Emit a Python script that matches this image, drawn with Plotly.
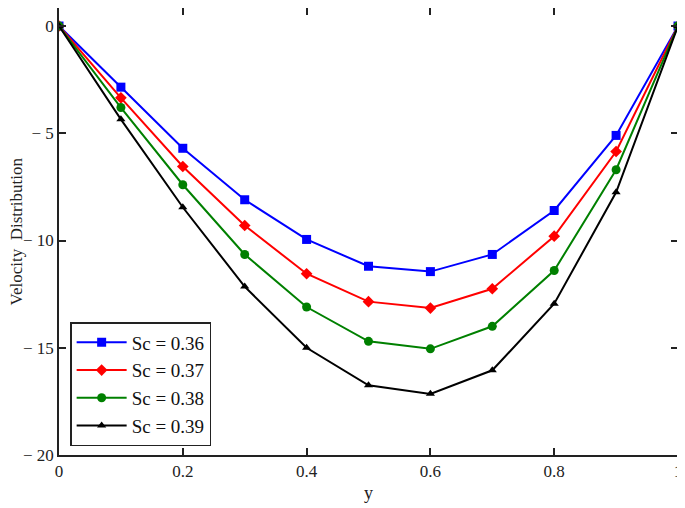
import plotly.graph_objects as go

x_vals = [0, 0.1, 0.2, 0.3, 0.4, 0.5, 0.6, 0.7, 0.8, 0.9, 1.0]
sc036 = [0, -2.85, -5.7, -8.1, -9.95, -11.2, -11.45, -10.65, -8.6, -5.1, 0]
sc037 = [0, -3.35, -6.55, -9.3, -11.55, -12.85, -13.15, -12.25, -9.8, -5.85, 0]
sc038 = [0, -3.8, -7.4, -10.65, -13.1, -14.7, -15.05, -14.0, -11.4, -6.7, 0]
sc039 = [0, -4.35, -8.45, -12.15, -15.0, -16.75, -17.15, -16.05, -12.95, -7.75, 0]
names = ["Sc = 0.36", "Sc = 0.37", "Sc = 0.38", "Sc = 0.39"]
x_ticks = [0, 0.2, 0.4, 0.6, 0.8, 1]
x_ticktext = ["0", "0.2", "0.4", "0.6", "0.8", "1"]
y_ticks = [0, -5, -10, -15, -20]
y_ticktext = ["0", "− 5", "− 10", "− 15", "− 20"]

colors = ["#0000ff", "#ff0000", "#008000", "#000000"]
symbols = ["square", "diamond", "circle", "triangle-up"]
sizes = [9, 9, 9, 8]

fig = go.Figure()
for ys, nm, c, s, sz in zip([sc036, sc037, sc038, sc039], names, colors, symbols, sizes):
    fig.add_trace(go.Scatter(x=x_vals, y=ys, name=nm, mode="lines+markers",
                             line=dict(color=c, width=2),
                             marker=dict(symbol=s, size=sz, color=c)))

font_family = "Liberation Serif, Times New Roman, serif"
fig.update_layout(
    width=685, height=508,
    margin=dict(l=51, r=15, t=0, b=61, autoexpand=False),
    plot_bgcolor="white", paper_bgcolor="white",
    font=dict(family=font_family, size=17, color="#222"),
    showlegend=True,
    legend=dict(x=0.018, y=0.2975, xanchor="left", yanchor="top",
                bordercolor="#222", borderwidth=1.5, bgcolor="white",
                font=dict(size=19, color="#111"), tracegroupgap=0,
                itemwidth=50),
    xaxis=dict(range=[0, 1], tickvals=x_ticks, ticktext=x_ticktext,
               ticks="inside", ticklen=7, tickwidth=1.5, tickcolor="#222",
               showline=True, linecolor="#222", linewidth=1.5, mirror="ticks",
               showgrid=False, zeroline=False, automargin=False),
    yaxis=dict(range=[-20, 0.84], tickvals=y_ticks, ticktext=y_ticktext,
               ticks="inside", ticklen=7, tickwidth=1.5, tickcolor="#222",
               showline=True, linecolor="#222", linewidth=1.5, mirror="ticks",
               showgrid=False, zeroline=False, automargin=False),
    annotations=[
        dict(text="y", xref="paper", yref="paper", x=0.5, y=-0.085,
             xanchor="center", yanchor="middle", showarrow=False,
             font=dict(size=18)),
        dict(text="Velocity  Distribution", xref="paper", yref="paper",
             x=-0.068, y=0.5, xanchor="center", yanchor="middle",
             textangle=-90, showarrow=False, font=dict(size=17)),
    ],
)

fig.write_html("out.html")
